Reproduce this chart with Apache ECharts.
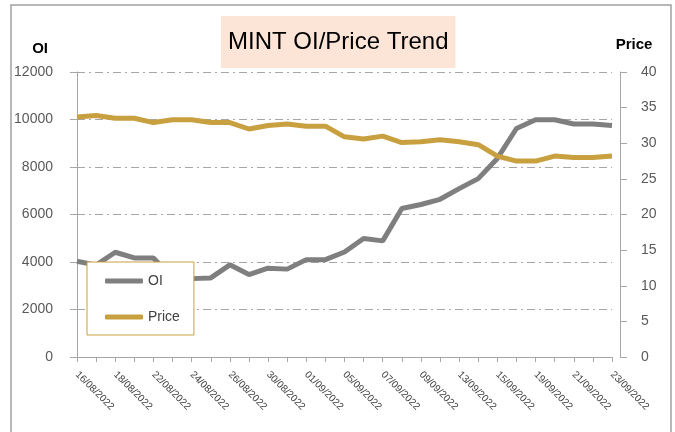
<!DOCTYPE html>
<html>
<head>
<meta charset="utf-8">
<script src="https://cdn.jsdelivr.net/npm/echarts@6/dist/echarts.min.js"></script>
<style>
  html, body { margin: 0; padding: 0; background: #fff; }
  #chart { width: 675px; height: 432px; }
</style>
</head>
<body>
<div id="chart"></div>
<script>
// trading days, 16/08/2022 - 23/09/2022
const dates = [
  '16/08/2022', '17/08/2022', '18/08/2022', '19/08/2022', '22/08/2022', '23/08/2022',
  '24/08/2022', '25/08/2022', '26/08/2022', '29/08/2022', '30/08/2022', '31/08/2022',
  '01/09/2022', '02/09/2022', '05/09/2022', '06/09/2022', '07/09/2022', '08/09/2022',
  '09/09/2022', '12/09/2022', '13/09/2022', '14/09/2022', '15/09/2022', '16/09/2022',
  '19/09/2022', '20/09/2022', '21/09/2022', '22/09/2022', '23/09/2022'
]
const oi = [
  4030, 3870, 4410, 4170, 4170, 3320,
  3300, 3330, 3880, 3470, 3740, 3700,
  4100, 4100, 4420, 4990, 4890, 6250,
  6420, 6640, 7090, 7510, 8360, 9620,
  9990, 9990, 9810, 9810, 9750
]
const price = [
  33.7, 33.9, 33.5, 33.5, 32.9, 33.3,
  33.3, 32.9, 32.9, 32.0, 32.5, 32.7,
  32.4, 32.4, 30.9, 30.6, 31.0, 30.1,
  30.2, 30.5, 30.2, 29.8, 28.2, 27.5,
  27.5, 28.2, 28.0, 28.0, 28.2
]
const oiTicks = { min: 0, max: 12000, interval: 2000 }
const priceTicks = { min: 0, max: 40, interval: 5 }

const grey = '#7f7f7f'
const gold = '#c9a03f'
const axisGrey = '#a6a6a6'
const font = '"Liberation Sans", Arial, sans-serif'

const myChart = echarts.init(document.getElementById('chart'))
const option = {
  animation: false,
  textStyle: { fontFamily: font },
  title: {
    text: 'MINT OI/Price Trend',
    left: 221,
    top: 16,
    padding: [14, 7],
    backgroundColor: '#fce4d6',
    textStyle: { fontSize: 24, fontWeight: 'normal', color: '#000', fontFamily: font }
  },
  legend: {
    orient: 'vertical',
    left: 87,
    top: 262,
    padding: [12, 14, 11, 18],
    itemGap: 22,
    itemWidth: 38,
    itemHeight: 5,
    icon: 'roundRect',
    backgroundColor: '#fff',
    borderColor: gold,
    borderWidth: 1,
    textStyle: { fontSize: 14, color: '#404040', fontFamily: font },
    data: ['OI', 'Price']
  },
  grid: { left: 77, right: 63, top: 72, bottom: 75 },
  xAxis: {
    type: 'category',
    boundaryGap: false,
    data: dates,
    axisLine: { lineStyle: { color: axisGrey, width: 1 } },
    axisTick: { show: true, interval: 0, length: 5, lineStyle: { color: axisGrey } },
    axisLabel: { interval: 1, rotate: -45, fontSize: 10, color: '#404040', margin: 16 }
  },
  yAxis: [
    {
      type: 'value',
      name: 'OI',
      nameLocation: 'end',
      nameGap: 16,
      nameTextStyle: { fontSize: 15, fontWeight: 'bold', color: '#000', align: 'right', padding: [0, 29, 0, 0] },
      min: oiTicks.min,
      max: oiTicks.max,
      interval: oiTicks.interval,
      position: 'left',
      axisLine: { show: true, lineStyle: { color: axisGrey, width: 1 } },
      axisTick: { show: true, length: 7, lineStyle: { color: axisGrey } },
      axisLabel: { fontSize: 14, color: '#595959', margin: 24, formatter: (v) => String(v) },
      splitLine: { show: true, lineStyle: { color: axisGrey, width: 1, type: [8, 4, 2, 4] } }
    },
    {
      type: 'value',
      name: 'Price',
      nameLocation: 'end',
      nameGap: 20,
      nameTextStyle: { fontSize: 15, fontWeight: 'bold', color: '#000', align: 'center', padding: [0, 0, 0, 28] },
      min: priceTicks.min,
      max: priceTicks.max,
      interval: priceTicks.interval,
      position: 'right',
      offset: 8,
      axisLine: { show: true, lineStyle: { color: axisGrey, width: 1 } },
      axisTick: { show: true, length: 7, lineStyle: { color: axisGrey } },
      axisLabel: { fontSize: 14, color: '#595959', margin: 21, formatter: (v) => String(v) },
      splitLine: { show: false }
    }
  ],
  series: [
    {
      name: 'OI',
      type: 'line',
      yAxisIndex: 0,
      data: oi,
      symbol: 'none',
      color: grey,
      lineStyle: { width: 5, color: grey }
    },
    {
      name: 'Price',
      type: 'line',
      yAxisIndex: 1,
      data: price,
      symbol: 'none',
      color: gold,
      lineStyle: { width: 5, color: gold }
    }
  ],
  graphic: [
    {
      // outer chart frame
      type: 'rect',
      silent: true,
      z: -1,
      shape: { x: 11, y: 5, width: 660, height: 440 },
      style: { fill: null, stroke: '#a0a0a0', lineWidth: 1.5 }
    }
  ]
}
myChart.setOption(option)
</script>
</body>
</html>
